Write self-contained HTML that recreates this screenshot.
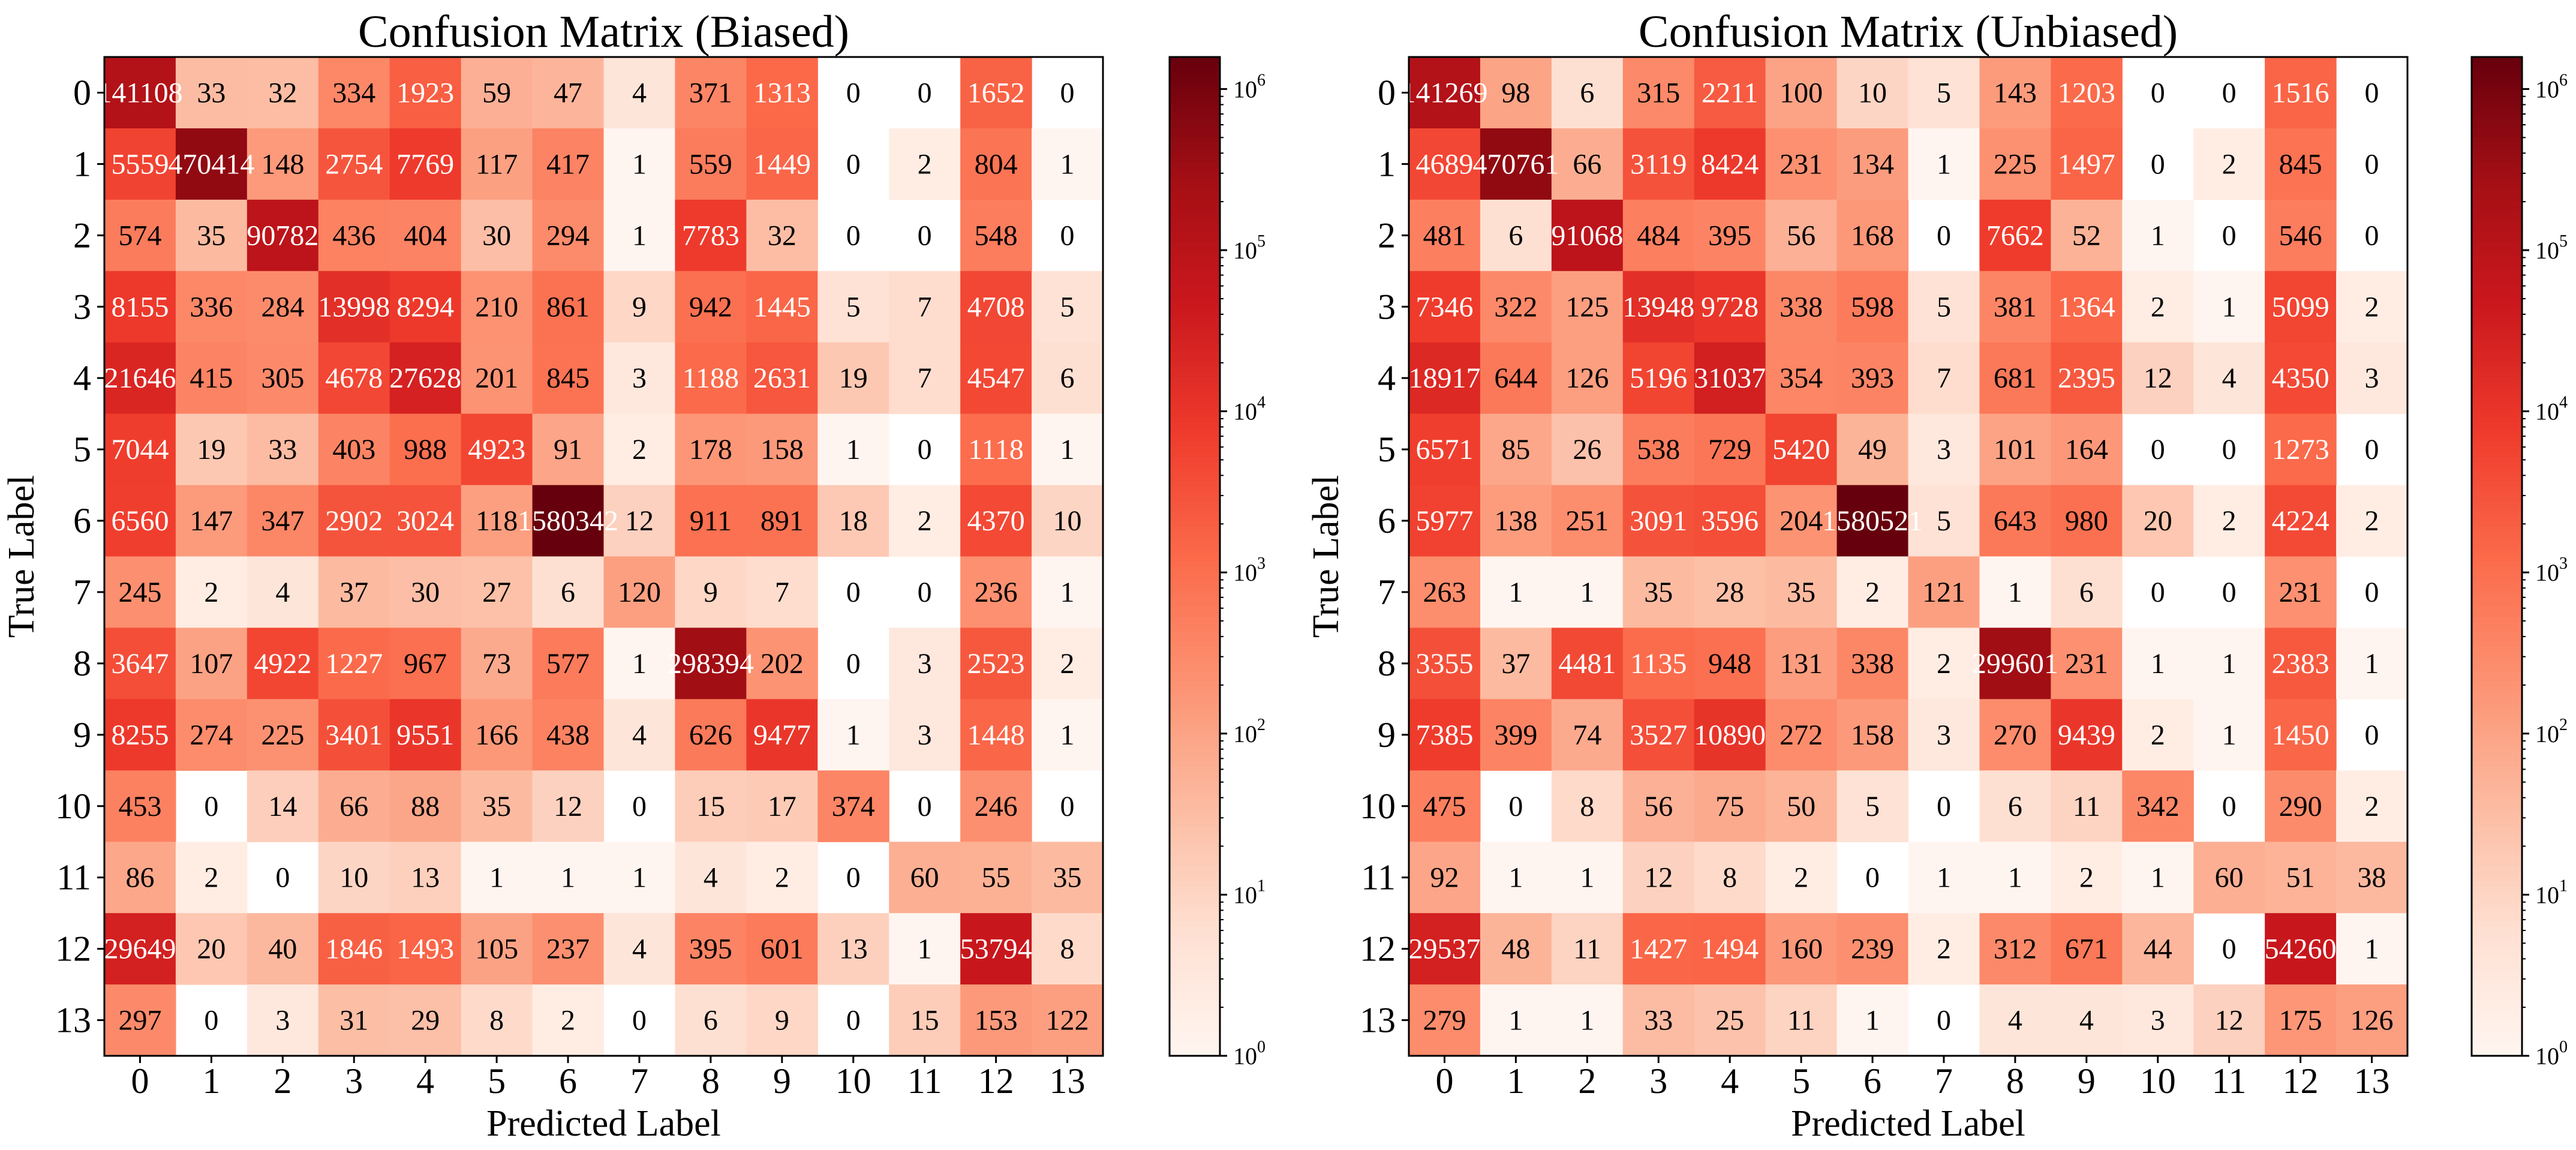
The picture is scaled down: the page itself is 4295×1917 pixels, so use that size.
<!DOCTYPE html>
<html><head><meta charset="utf-8">
<style>
html,body{margin:0;padding:0;background:#fff;}
svg, svg text{font-family:"Liberation Serif","DejaVu Serif",serif;}
svg{display:block;}
</style></head>
<body>
<svg id="chart" width="4295" height="1917" viewBox="0 0 4295 1917" xmlns="http://www.w3.org/2000/svg" font-family="Liberation Serif, DejaVu Serif, serif"></svg>
<script>
const classLabels = ["0","1","2","3","4","5","6","7","8","9","10","11","12","13"];
const biasedMatrix = [
[141108,33,32,334,1923,59,47,4,371,1313,0,0,1652,0],
[5559,470414,148,2754,7769,117,417,1,559,1449,0,2,804,1],
[574,35,90782,436,404,30,294,1,7783,32,0,0,548,0],
[8155,336,284,13998,8294,210,861,9,942,1445,5,7,4708,5],
[21646,415,305,4678,27628,201,845,3,1188,2631,19,7,4547,6],
[7044,19,33,403,988,4923,91,2,178,158,1,0,1118,1],
[6560,147,347,2902,3024,118,1580342,12,911,891,18,2,4370,10],
[245,2,4,37,30,27,6,120,9,7,0,0,236,1],
[3647,107,4922,1227,967,73,577,1,298394,202,0,3,2523,2],
[8255,274,225,3401,9551,166,438,4,626,9477,1,3,1448,1],
[453,0,14,66,88,35,12,0,15,17,374,0,246,0],
[86,2,0,10,13,1,1,1,4,2,0,60,55,35],
[29649,20,40,1846,1493,105,237,4,395,601,13,1,53794,8],
[297,0,3,31,29,8,2,0,6,9,0,15,153,122]
];
const unbiasedMatrix = [
[141269,98,6,315,2211,100,10,5,143,1203,0,0,1516,0],
[4689,470761,66,3119,8424,231,134,1,225,1497,0,2,845,0],
[481,6,91068,484,395,56,168,0,7662,52,1,0,546,0],
[7346,322,125,13948,9728,338,598,5,381,1364,2,1,5099,2],
[18917,644,126,5196,31037,354,393,7,681,2395,12,4,4350,3],
[6571,85,26,538,729,5420,49,3,101,164,0,0,1273,0],
[5977,138,251,3091,3596,204,1580521,5,643,980,20,2,4224,2],
[263,1,1,35,28,35,2,121,1,6,0,0,231,0],
[3355,37,4481,1135,948,131,338,2,299601,231,1,1,2383,1],
[7385,399,74,3527,10890,272,158,3,270,9439,2,1,1450,0],
[475,0,8,56,75,50,5,0,6,11,342,0,290,2],
[92,1,1,12,8,2,0,1,1,2,1,60,51,38],
[29537,48,11,1427,1494,160,239,2,312,671,44,0,54260,1],
[279,1,1,33,25,11,1,0,4,4,3,12,175,126]
];
const colorbarExponents = [0,1,2,3,4,5,6];
const panelTitles = ["Confusion Matrix (Biased)","Confusion Matrix (Unbiased)"];

const NS="http://www.w3.org/2000/svg";
const FONT="Liberation Serif, DejaVu Serif, serif";
const svg=document.getElementById('chart');
function mk(tag,attrs,parent){const e=document.createElementNS(NS,tag);for(const k in attrs)e.setAttribute(k,attrs[k]);if(tag==='text')e.setAttribute('font-family',FONT);(parent||svg).appendChild(e);return e;}
const reds=["#fff5f0","#fee0d2","#fcbba1","#fc9272","#fb6a4a","#ef3b2c","#cb181d","#a50f15","#67000d"];
function hex(c){return [parseInt(c.slice(1,3),16),parseInt(c.slice(3,5),16),parseInt(c.slice(5,7),16)];}
function cmap(t){t=Math.max(0,Math.min(1,t));const p=t*(reds.length-1);const i=Math.min(Math.floor(p),reds.length-2);const f=p-i;const a=hex(reds[i]),b=hex(reds[i+1]);return `rgb(${a.map((v,k)=>Math.round(v+(b[k]-v)*f)).join(',')})`;}

const panels=[{x0:174,mat:biasedMatrix,cbx:1950,title:panelTitles[0]},{x0:2349,mat:unbiasedMatrix,cbx:4121,title:panelTitles[1]}];
const Y0=95, SIZE=1665, N=classLabels.length, CELL=SIZE/N, CBW=84;

panels.forEach((p,pi)=>{
  let vmax=0;p.mat.forEach(r=>r.forEach(v=>{if(v>vmax)vmax=v;}));
  const lmax=Math.log10(vmax);
  const norm=v=>Math.log10(v)/lmax;
  const xs=j=>p.x0+j*CELL, ys=i=>Y0+i*CELL;
  const g=mk('g',{});
  
  
  p.mat.forEach((row,i)=>row.forEach((v,j)=>{
    if(v>0){
      const r=mk('rect',{x:xs(j),y:ys(i),width:CELL+0.6,height:CELL+0.6,fill:cmap(norm(v))},g);
      
      
    }
  }));
  p.mat.forEach((row,i)=>row.forEach((v,j)=>{
    const t=mk('text',{x:xs(j)+CELL/2,y:ys(i)+CELL/2+16,'text-anchor':'middle','font-size':48,fill:v>1000?'#fff':'#000'},g);
    
    
    t.textContent=String(v);
  }));
  const fr=mk('rect',{x:p.x0,y:Y0,width:SIZE,height:SIZE,fill:'none',stroke:'#000','stroke-width':3},g);
  
  
  classLabels.forEach((lab,k)=>{
    mk('line',{x1:xs(k)+CELL/2,x2:xs(k)+CELL/2,y1:Y0+SIZE,y2:Y0+SIZE+12,stroke:'#000','stroke-width':3},g);
    const tx=mk('text',{x:xs(k)+CELL/2,y:1822,'text-anchor':'middle','font-size':60},g);
    
    
    tx.textContent=lab;
    mk('line',{x1:p.x0-12,x2:p.x0,y1:ys(k)+CELL/2,y2:ys(k)+CELL/2,stroke:'#000','stroke-width':3},g);
    const ty=mk('text',{x:p.x0-22,y:ys(k)+CELL/2+20,'text-anchor':'end','font-size':60},g);
    
    
    ty.textContent=lab;
  });
  const tt=mk('text',{x:p.x0+SIZE/2,y:78,'text-anchor':'middle','font-size':76},g);
  
  
  tt.textContent=p.title;
  const xl=mk('text',{x:p.x0+SIZE/2,y:1893,'text-anchor':'middle','font-size':62},g);
  
  
  xl.textContent='Predicted Label';
  const ycx=p.x0-118, ycy=Y0+SIZE/2;
  const yl=mk('text',{x:ycx,y:ycy,'text-anchor':'middle','font-size':62,transform:`rotate(-90 ${ycx} ${ycy})`},g);
  
  
  yl.textContent='True Label';
  const cb=mk('g',{});
  
  
  const steps=200;
  for(let s=0;s<steps;s++){
    const t0=s/steps;
    mk('rect',{x:p.cbx,y:Y0+SIZE*(1-(s+1)/steps),width:CBW,height:SIZE/steps+0.8,fill:cmap(t0+0.5/steps)},cb);
  }
  mk('rect',{x:p.cbx,y:Y0,width:CBW,height:SIZE,fill:'none',stroke:'#000','stroke-width':3},cb);
  const cy=v=>Y0+SIZE*(1-Math.log10(v)/lmax);
  const xr=p.cbx+CBW;
  colorbarExponents.forEach(e=>{
    const y=cy(Math.pow(10,e));
    mk('line',{x1:xr,x2:xr+12,y1:y,y2:y,stroke:'#000','stroke-width':3},cb);
    for(let m=2;m<=9;m++){const v=m*Math.pow(10,e);if(v<=vmax){const ym=cy(v);mk('line',{x1:xr,x2:xr+6,y1:ym,y2:ym,stroke:'#000','stroke-width':2},cb);}}
    const lt=mk('text',{x:xr+22,y:y+14,'font-size':40},cb);
    
    
    lt.textContent='10';
    const sp=mk('tspan',{dy:-20,'font-size':28},lt);
    sp.textContent=String(e);
  });
});
</script>
</body></html>
